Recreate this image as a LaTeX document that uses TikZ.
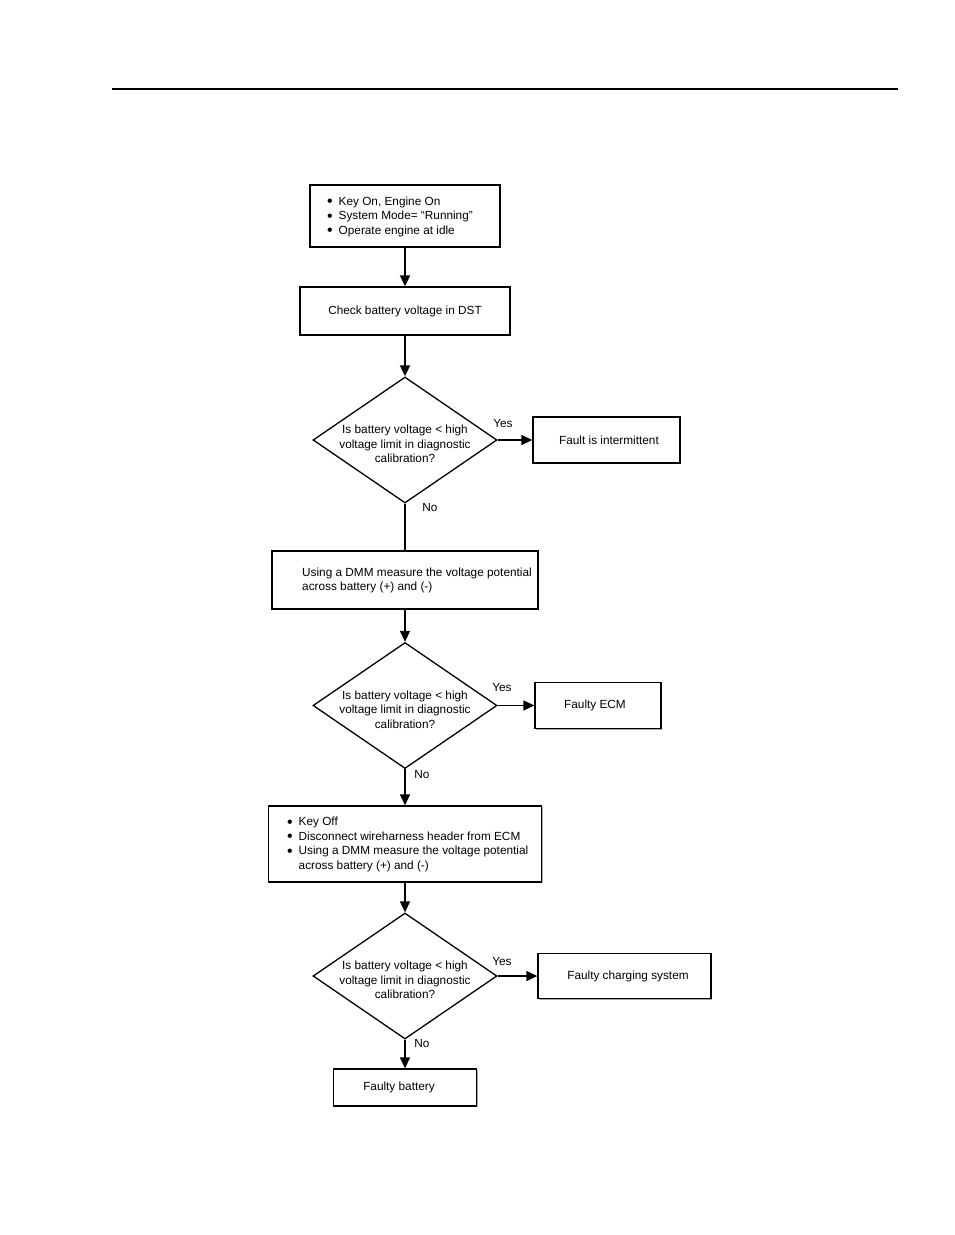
\documentclass[tikz,border=0pt]{standalone}
\usepackage{fontspec}
\setmainfont{Liberation Sans}
\usetikzlibrary{shapes.geometric,arrows.meta,shadows}
\newcommand{\bl}{\makebox[11.5pt][l]{\raisebox{-1.5pt}{\scalebox{1.35}{•}}}}
\begin{document}
\begin{tikzpicture}[x=1pt,y=-1pt,
  every node/.style={font=\fontsize{11.8}{14.5}\selectfont},
  box/.style={draw, line width=1.3pt, inner sep=0pt,
    drop shadow={shadow xshift=1.2pt, shadow yshift=-1.2pt, fill=gray!70, opacity=1}, fill=white},
  dia/.style={draw, diamond, line width=1.3pt, inner sep=0pt, minimum width=184pt, minimum height=126pt},
  dlab/.style={align=center, yshift=-4pt},
  txt/.style={align=left, inner sep=0pt, anchor=west},
  arr/.style={draw, line width=1.3pt, -{Triangle[length=11pt,width=10pt]}},
  lab/.style={inner sep=0pt}]
\useasboundingbox (0,0) rectangle (954,1235);
\draw[line width=1.4pt] (112,89) coordinate (hl) -- (898,89) coordinate (hr);

\node[box, minimum width=190pt, minimum height=62pt] (b1) at (405,216) {};
\node[txt] (t1) at (327,216.5) {\bl Key On, Engine On\\\bl System Mode= “Running”\\\bl Operate engine at idle};

\node[box, minimum width=210pt, minimum height=48pt] (b2) at (405,311) {Check battery voltage in DST};

\node[dia, label={[dlab]center:Is battery voltage < high\\voltage limit in diagnostic\\calibration?}] (d1) at (405,440) {};
\node[box, minimum width=147pt, minimum height=46pt, label={[xshift=2.5pt]center:Fault is intermittent}] (b3) at (606.5,440) {};

\node[box, minimum width=266pt, minimum height=58pt] (b4) at (405,580) {};
\node[txt] (t4) at (302,580.5) {Using a DMM measure the voltage potential\\across battery (+) and (-)};

\node[dia, label={[dlab]center:Is battery voltage < high\\voltage limit in diagnostic\\calibration?}] (d2) at (405,705.5) {};
\node[box, minimum width=126pt, minimum height=46pt, label={[xshift=-3pt]center:Faulty ECM}] (b5) at (598,705.5) {};

\node[box, minimum width=273pt, minimum height=76pt] (b6) at (405,844) {};
\node[txt] (t6) at (287,844.5) {\bl Key Off\\\bl Disconnect wireharness header from ECM\\\bl Using a DMM measure the voltage potential\\\makebox[11.5pt]{}across battery (+) and (-)};

\node[dia, label={[dlab]center:Is battery voltage < high\\voltage limit in diagnostic\\calibration?}] (d3) at (405,976) {};
\node[box, minimum width=173pt, minimum height=45pt, label={[xshift=3.5pt]center:Faulty charging system}] (b7) at (624.5,976) {};

\node[box, minimum width=143pt, minimum height=37pt, label={[xshift=-6pt]center:Faulty battery}] (b8) at (405,1087.5) {};

\draw[arr, line width=1.8pt] (b1) -- (b2);
\draw[arr, line width=1.8pt] (b2) -- (d1);
\draw[arr] (d1.east) -- (d1.east -| b3.west);
\draw[line width=1.3pt] (d1.south) -- (d1.south |- b4.north);
\draw[arr] (b4) -- (d2);
\draw[arr] (d2.east) -- (d2.east -| b5.west);
\draw[arr] (d2.south) -- (d2.south |- b6.north);
\draw[arr] (b6) -- (d3);
\draw[arr] (d3.east) -- (d3.east -| b7.west);
\draw[arr] (d3.south) -- (d3.south |- b8.north);

\node[lab] (y1) at (503,423) {Yes};
\node[lab] (n1) at (430,507) {No};
\node[lab] (y2) at (502,687) {Yes};
\node[lab] (n2) at (422,774) {No};
\node[lab] (y3) at (502,961) {Yes};
\node[lab] (n3) at (422,1043) {No};
\end{tikzpicture}
\end{document}
